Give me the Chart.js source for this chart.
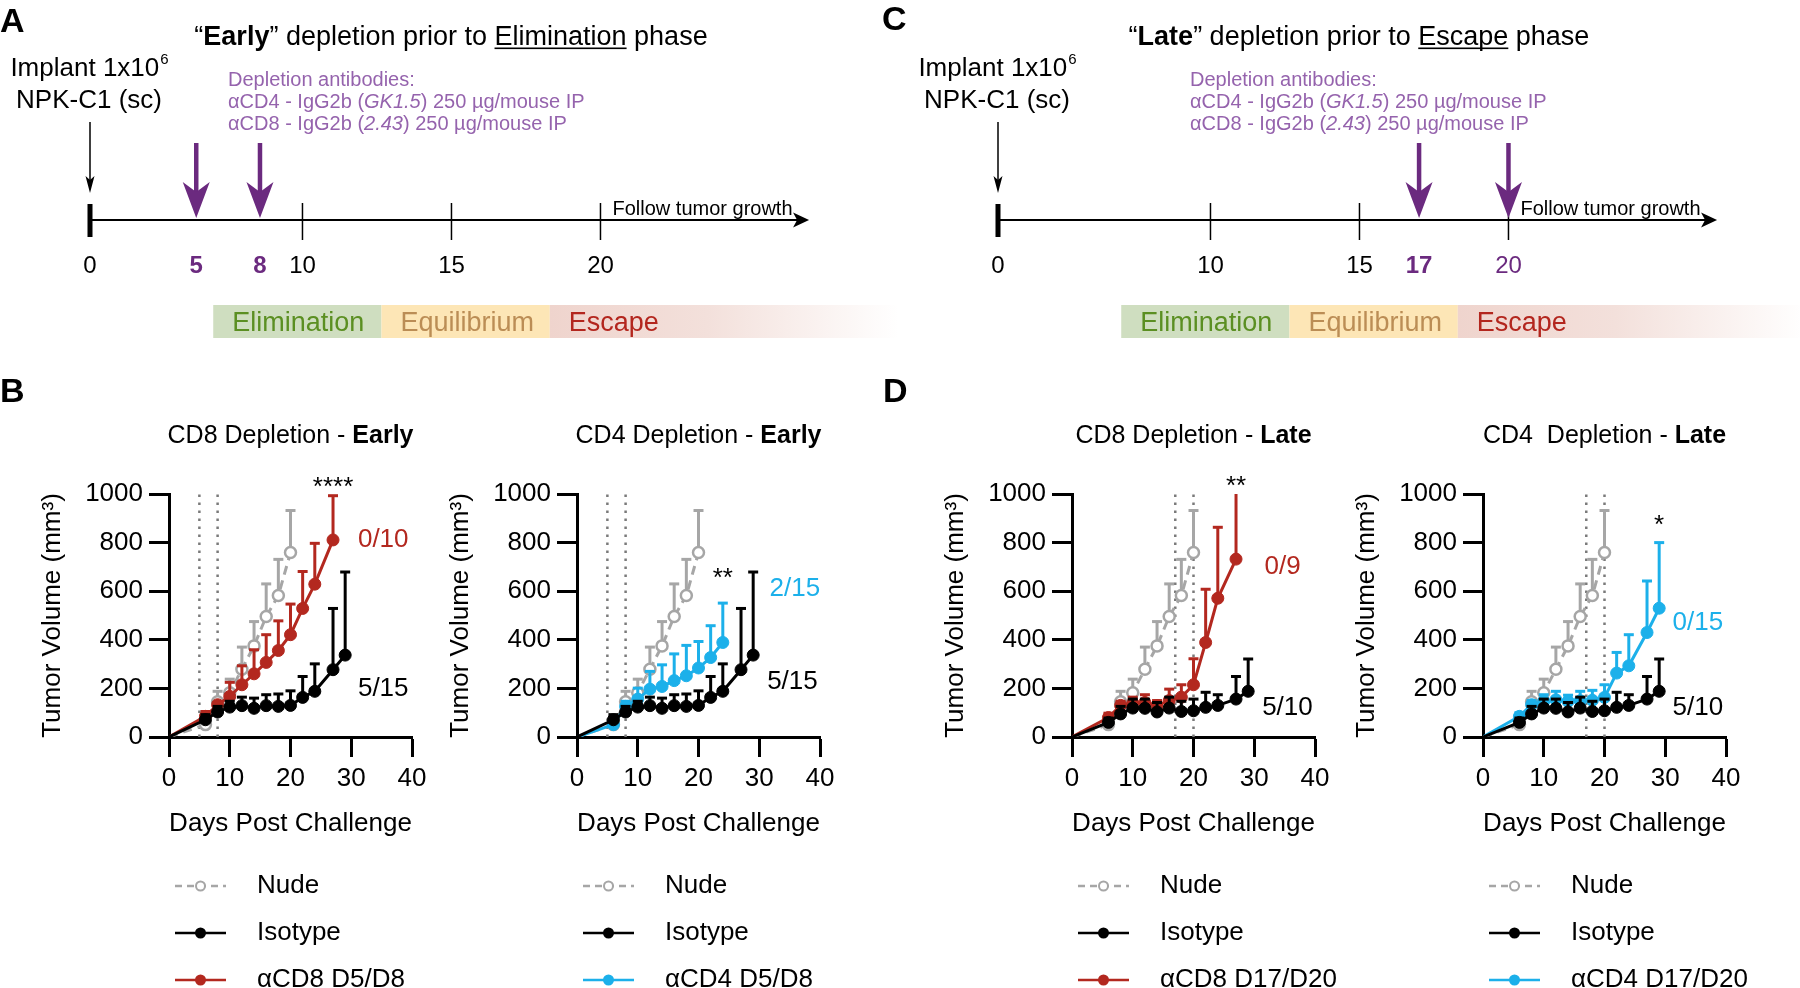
<!DOCTYPE html>
<html>
<head>
<meta charset="utf-8">
<script src="https://cdn.jsdelivr.net/npm/chart.js@4.4.1/dist/chart.umd.min.js"></script>
<style>
  body { margin: 0; background: #fff; width: 1800px; height: 988px; position: relative; overflow: hidden;
         font-family: "Liberation Sans", Arial, Helvetica, sans-serif; }
  .box { position: absolute; }
  .tag { position: absolute; font-weight: bold; font-size: 34px; line-height: 1; z-index: 5; }
</style>
</head>
<body>
<div class="tag" style="left:0;top:3px">A</div>
<div class="tag" style="left:882px;top:1px">C</div>
<div class="tag" style="left:0;top:373px">B</div>
<div class="tag" style="left:883px;top:373px">D</div>

<div class="box" style="left:0;top:0;width:900px;height:350px"><canvas id="tlEarly"></canvas></div>
<div class="box" style="left:900px;top:0;width:900px;height:350px"><canvas id="tlLate"></canvas></div>

<div class="box" style="left:0;top:410px;width:440px;height:578px"><canvas id="cd8Early"></canvas></div>
<div class="box" style="left:408px;top:410px;width:440px;height:578px"><canvas id="cd4Early"></canvas></div>
<div class="box" style="left:903px;top:410px;width:440px;height:578px"><canvas id="cd8Late"></canvas></div>
<div class="box" style="left:1314px;top:410px;width:440px;height:578px"><canvas id="cd4Late"></canvas></div>

<script>
// ---- data ----
const days = [0, 6, 8, 10, 12, 14, 16, 18, 20, 22, 24, 27, 29];

// mean tumour volume and top of the error bar (mean + SEM), mm3
const nudeVol = [0, 51, 145, 182, 279, 375, 496, 582, 759];
const nudeHi = [null, 70, 188, 238, 370, 475, 630, 731, 932];

const isoEarlyVol = [0, 71, 103, 123, 129, 118, 129, 126, 130, 163, 188, 277, 337];
const isoEarlyHi = [null, 92, 126, 147, 164, 160, 174, 177, 190, 249, 301, 529, 679];

const cd8EarlyVol = [0, 85, 133, 167, 215, 260, 307, 356, 421, 529, 629, 811];
const cd8EarlyHi = [null, 105, 142, 225, 293, 359, 421, 478, 547, 681, 797, 993];

const cd4EarlyVol = [0, 51, 126, 156, 197, 208, 232, 252, 284, 327, 389];
const cd4EarlyHi = [null, 65, 147, 201, 270, 297, 342, 377, 393, 458, 551];

const isoLateVol = [0, 60, 95, 119, 118, 103, 119, 105, 108, 122, 130, 156, 188];
const isoLateHi = [null, 78, 126, 156, 156, 142, 164, 147, 156, 184, 174, 249, 321];

const cd8LateVol = [0, 80, 130, 140, 142, 130, 150, 164, 215, 389, 571, 732];
const cd8LateHi = [null, 98, 147, 164, 174, 150, 197, 215, 322, 608, 863, 1060];

const cd4LateVol = [0, 85, 133, 147, 153, 147, 149, 151, 163, 263, 293, 430, 530];
const cd4LateHi = [null, 100, 150, 174, 188, 172, 188, 192, 215, 348, 421, 642, 800];

// dosing days and timeline
const earlyDoses = [5, 8];
const lateDoses = [17, 20];
const tlTicks = [0, 10, 15, 20];
const tlEnd = 27;
const phaseNames = ['Elimination', 'Equilibrium', 'Escape'];
const phaseStart = [5.8, 12.65, 18.3];
const phaseEnd = [12.65, 18.3, 30];

// ---- styles ----
const FONT = '"Liberation Sans", Arial, Helvetica, sans-serif';
const RED = '#b3281f', BLUE = '#1cb0ea', GRAY = '#a6a6a6';
const PURPLE = '#6b2a7f', NOTE = '#9563ad';
const phaseFill = ['#cfdec0', '#fde6b6', '#efd4cd'];
const phaseInk = ['#5b8f22', '#bb8d55', '#b3261e'];

Chart.defaults.font.family = FONT;
Chart.defaults.color = '#000';

// the schematic timeline squeezes the first 10 days
const warp = d => (d < 10 ? d * 0.713 : d - 2.87);

// draw a line of text made of styled pieces
function runs(ctx, parts, x, y, size, align, color) {
  const fontOf = p => (p.i ? 'italic ' : '') + (p.b ? 'bold ' : '') + size + 'px ' + FONT;
  let w = 0;
  parts.forEach(p => { ctx.font = fontOf(p); w += ctx.measureText(p.t).width; });
  let cx = align === 'center' ? x - w / 2 : x;
  ctx.textAlign = 'left';
  ctx.textBaseline = 'alphabetic';
  ctx.fillStyle = color;
  parts.forEach(p => {
    ctx.font = fontOf(p);
    const pw = ctx.measureText(p.t).width;
    ctx.fillText(p.t, cx, y);
    if (p.u) ctx.fillRect(cx, y + 2.5, pw, 1.6);
    cx += pw;
  });
}

function timelinePlugin(o) {
  return {
    id: 'timeline',
    afterDraw(chart) {
      const ctx = chart.ctx, xs = chart.scales.x;
      const X = d => xs.getPixelForValue(warp(d));
      const x0 = X(0), axisY = 220;
      ctx.save();

      // phases
      phaseNames.forEach((name, i) => {
        const x1 = X(phaseStart[i]), x2 = X(phaseEnd[i]);
        if (i === phaseNames.length - 1) {
          const g = ctx.createLinearGradient(x1, 0, x2, 0);
          g.addColorStop(0, phaseFill[i]);
          g.addColorStop(0.45, '#f3e0db');
          g.addColorStop(1, '#ffffff');
          ctx.fillStyle = g;
        } else {
          ctx.fillStyle = phaseFill[i];
        }
        ctx.fillRect(x1, 305, x2 - x1, 33);
        ctx.fillStyle = phaseInk[i];
        ctx.font = '27px ' + FONT;
        ctx.textAlign = 'left';
        ctx.textBaseline = 'alphabetic';
        ctx.fillText(name, x1 + 19, 331);
      });

      // title
      runs(ctx, o.title, x0 + 361, 45, 27, 'center', '#000');

      // implant note + arrow
      ctx.fillStyle = '#000';
      ctx.font = '26px ' + FONT;
      const mainW = ctx.measureText('Implant 1x10').width;
      ctx.font = '15px ' + FONT;
      const supW = ctx.measureText('6').width;
      const sx = x0 - 1 - (mainW + supW) / 2;
      ctx.textAlign = 'left';
      ctx.textBaseline = 'alphabetic';
      ctx.font = '26px ' + FONT;
      ctx.fillText('Implant 1x10', sx, 76);
      ctx.font = '15px ' + FONT;
      ctx.fillText('6', sx + mainW + 1, 64);
      ctx.font = '26px ' + FONT;
      ctx.textAlign = 'center';
      ctx.fillText('NPK-C1 (sc)', x0 - 1, 108);

      ctx.strokeStyle = '#000';
      ctx.lineWidth = 1.5;
      ctx.beginPath(); ctx.moveTo(x0, 122); ctx.lineTo(x0, 182); ctx.stroke();
      ctx.beginPath(); ctx.moveTo(x0 - 4.5, 176); ctx.lineTo(x0, 193); ctx.lineTo(x0 + 4.5, 176);
      ctx.lineTo(x0, 180); ctx.closePath(); ctx.fill();

      // antibody note
      o.note.forEach((line, i) => runs(ctx, line, o.noteX, 86 + i * 22, 20, 'left', NOTE));

      // timeline axis with arrow head
      const xe = X(tlEnd);
      ctx.fillStyle = '#000';
      ctx.strokeStyle = '#000';
      ctx.lineWidth = 2;
      ctx.beginPath(); ctx.moveTo(x0, axisY); ctx.lineTo(xe - 8, axisY); ctx.stroke();
      ctx.beginPath(); ctx.moveTo(xe, axisY); ctx.lineTo(xe - 16, axisY - 7.5); ctx.lineTo(xe - 12, axisY);
      ctx.lineTo(xe - 16, axisY + 7.5); ctx.closePath(); ctx.fill();
      ctx.fillRect(x0 - 2.5, 204, 5, 33);
      ctx.lineWidth = 1.5;
      tlTicks.filter(d => d > 0).forEach(d => {
        const px = X(d);
        ctx.beginPath(); ctx.moveTo(px, 203); ctx.lineTo(px, 240); ctx.stroke();
      });

      // dose arrows
      ctx.fillStyle = PURPLE;
      ctx.strokeStyle = PURPLE;
      ctx.lineWidth = 4.5;
      o.doses.forEach(d => {
        const px = X(d);
        ctx.beginPath(); ctx.moveTo(px, 143); ctx.lineTo(px, 195); ctx.stroke();
        ctx.beginPath(); ctx.moveTo(px, 218); ctx.lineTo(px - 13.5, 182); ctx.lineTo(px, 192);
        ctx.lineTo(px + 13.5, 182); ctx.closePath(); ctx.fill();
      });

      // tick labels
      const labels = Array.from(new Set(tlTicks.concat(o.doses))).sort((a, b) => a - b);
      ctx.textAlign = 'center';
      ctx.textBaseline = 'alphabetic';
      labels.forEach(d => {
        const dose = o.doses.includes(d);
        const bold = dose && !tlTicks.includes(d);
        ctx.font = (bold ? 'bold ' : '') + '24px ' + FONT;
        ctx.fillStyle = dose ? PURPLE : '#000';
        ctx.fillText(String(d), X(d), 273);
      });

      ctx.fillStyle = '#000';
      ctx.font = '20px ' + FONT;
      ctx.textAlign = 'left';
      ctx.fillText('Follow tumor growth', X(20) + 12, 215);
      ctx.restore();
    }
  };
}

function timeline(id, o) {
  return new Chart(document.getElementById(id), {
    type: 'scatter',
    data: { datasets: [] },
    options: {
      responsive: true,
      maintainAspectRatio: false,
      animation: false,
      events: [],
      layout: { padding: { left: o.left, right: o.right, top: 0, bottom: 0 } },
      plugins: { legend: { display: false }, tooltip: { enabled: false } },
      scales: {
        x: { type: 'linear', min: 0, max: 25, display: false },
        y: { min: 0, max: 1, display: false }
      }
    },
    plugins: [timelinePlugin(o)]
  });
}

const noteLines = [
  [{ t: 'Depletion antibodies:' }],
  [{ t: '\u03b1CD4 - IgG2b (' }, { t: 'GK1.5', i: 1 }, { t: ') 250 \u00b5g/mouse IP' }],
  [{ t: '\u03b1CD8 - IgG2b (' }, { t: '2.43', i: 1 }, { t: ') 250 \u00b5g/mouse IP' }]
];

timeline('tlEarly', {
  left: 90, right: 65, noteX: 228, doses: earlyDoses, note: noteLines,
  title: [{ t: '\u201c' }, { t: 'Early', b: 1 }, { t: '\u201d depletion prior to ' }, { t: 'Elimination', u: 1 }, { t: ' phase' }]
});
timeline('tlLate', {
  left: 98, right: 57, noteX: 290, doses: lateDoses, note: noteLines,
  title: [{ t: '\u201c' }, { t: 'Late', b: 1 }, { t: '\u201d depletion prior to ' }, { t: 'Escape', u: 1 }, { t: ' phase' }]
});

// ---- tumour growth charts ----
function series(label, vol, hi, color, open, order) {
  return {
    label: label,
    data: vol.map((v, i) => ({ x: days[i], y: v })),
    hi: hi,
    open: open,
    order: order,
    borderColor: color,
    backgroundColor: color,
    borderWidth: 3,
    borderDash: open ? [9, 6] : [],
    tension: 0,
    pointRadius: vol.map((v, i) => (i === 0 ? 0 : open ? 5.5 : 6)),
    pointBackgroundColor: open ? '#fff' : color,
    pointBorderColor: color,
    pointBorderWidth: open ? 2.5 : 1
  };
}

function panelPlugin(o) {
  return {
    id: 'panel',
    beforeDatasetsDraw(chart) {
      const { ctx, scales: { x, y } } = chart;
      ctx.save();
      ctx.strokeStyle = '#7a7a7a';
      ctx.lineWidth = 2.5;
      ctx.setLineDash([2.5, 5.5]);
      o.doses.forEach(d => {
        const px = x.getPixelForValue(d);
        ctx.beginPath();
        ctx.moveTo(px, y.getPixelForValue(0));
        ctx.lineTo(px, y.getPixelForValue(y.max));
        ctx.stroke();
      });
      ctx.restore();
    },
    beforeDatasetDraw(chart, args) {
      const ds = chart.data.datasets[args.index];
      if (!ds.hi) return;
      const { ctx, scales: { y } } = chart;
      ctx.save();
      ctx.strokeStyle = ds.borderColor;
      ctx.lineWidth = 3;
      ds.hi.forEach((h, i) => {
        if (h == null) return;
        const p = args.meta.data[i];
        const yt = y.getPixelForValue(Math.min(h, y.max));
        ctx.beginPath(); ctx.moveTo(p.x, p.y); ctx.lineTo(p.x, yt); ctx.stroke();
        if (h <= y.max) {
          ctx.beginPath(); ctx.moveTo(p.x - 5, yt); ctx.lineTo(p.x + 5, yt); ctx.stroke();
        }
      });
      ctx.restore();
    },
    afterDraw(chart) {
      const { ctx, chartArea: a, scales: { x, y } } = chart;
      ctx.save();
      runs(ctx, o.title, (a.left + a.right) / 2, 33, 25, 'center', '#000');

      o.notes.forEach(n => {
        ctx.font = '26px ' + FONT;
        ctx.fillStyle = n.c;
        ctx.textAlign = n.a;
        ctx.textBaseline = 'middle';
        ctx.fillText(n.t, x.getPixelForValue(n.x), y.getPixelForValue(n.y));
      });

      // legend
      chart.data.datasets.forEach((ds, i) => {
        const ly = 476 + i * 47;
        const x1 = a.left + 6, x2 = a.left + 57, xm = (x1 + x2) / 2;
        ctx.strokeStyle = ds.borderColor;
        ctx.lineWidth = 2.5;
        ctx.setLineDash(ds.open ? [7, 5] : []);
        ctx.beginPath(); ctx.moveTo(x1, ly); ctx.lineTo(x2, ly); ctx.stroke();
        ctx.setLineDash([]);
        ctx.beginPath(); ctx.arc(xm, ly, 4.5, 0, Math.PI * 2);
        ctx.fillStyle = ds.open ? '#fff' : ds.borderColor;
        ctx.fill();
        ctx.lineWidth = 2;
        ctx.stroke();
        ctx.fillStyle = '#000';
        ctx.font = '26px ' + FONT;
        ctx.textAlign = 'left';
        ctx.textBaseline = 'middle';
        ctx.fillText(ds.label, a.left + 88, ly);
      });
      ctx.restore();
    }
  };
}

function axis(title, max, step, isX) {
  return {
    type: 'linear',
    min: 0,
    max: max,
    ticks: { stepSize: step, color: '#000', font: { size: 26 }, padding: 6, callback: v => String(v) },
    grid: { drawOnChartArea: false, drawTicks: true, tickLength: 20, tickWidth: 3, tickColor: '#000' },
    border: { display: true, color: '#000', width: 3 },
    title: { display: true, text: title, color: '#000', font: { size: 26 }, padding: { top: 0, bottom: 8 } },
    afterFit(s) {
      if (isX) { s.height = 110; s.paddingLeft = 0; s.paddingRight = 0; }
      else { s.width = 132; s.paddingTop = 0; s.paddingBottom = 0; }
    }
  };
}

function tumorChart(id, o) {
  return new Chart(document.getElementById(id), {
    type: 'line',
    data: {
      datasets: [
        series('Nude', nudeVol, nudeHi, GRAY, true, 2),
        series('Isotype', o.isoVol, o.isoHi, '#000', false, 0),
        series(o.label, o.vol, o.hi, o.color, false, 1)
      ]
    },
    options: {
      responsive: true,
      maintainAspectRatio: false,
      animation: false,
      events: [],
      layout: { padding: { left: 37, top: 84, right: 28, bottom: 141 } },
      plugins: { legend: { display: false }, tooltip: { enabled: false } },
      scales: {
        x: axis('Days Post Challenge', 40, 10, true),
        y: axis('Tumor Volume (mm\u00b3)', 1000, 200, false)
      }
    },
    plugins: [panelPlugin(o)]
  });
}

tumorChart('cd8Early', {
  title: [{ t: 'CD8 Depletion - ' }, { t: 'Early', b: 1 }],
  label: '\u03b1CD8 D5/D8', color: RED, vol: cd8EarlyVol, hi: cd8EarlyHi,
  isoVol: isoEarlyVol, isoHi: isoEarlyHi, doses: earlyDoses,
  notes: [
    { t: '****', x: 27, y: 1024, c: '#000', a: 'center' },
    { t: '0/10', x: 31.1, y: 811, c: RED, a: 'left' },
    { t: '5/15', x: 31.1, y: 197, c: '#000', a: 'left' }
  ]
});
tumorChart('cd4Early', {
  title: [{ t: 'CD4 Depletion - ' }, { t: 'Early', b: 1 }],
  label: '\u03b1CD4 D5/D8', color: BLUE, vol: cd4EarlyVol, hi: cd4EarlyHi,
  isoVol: isoEarlyVol, isoHi: isoEarlyHi, doses: earlyDoses,
  notes: [
    { t: '**', x: 24, y: 650, c: '#000', a: 'center' },
    { t: '2/15', x: 31.7, y: 609, c: BLUE, a: 'left' },
    { t: '5/15', x: 31.3, y: 227, c: '#000', a: 'left' }
  ]
});
tumorChart('cd8Late', {
  title: [{ t: 'CD8 Depletion - ' }, { t: 'Late', b: 1 }],
  label: '\u03b1CD8 D17/D20', color: RED, vol: cd8LateVol, hi: cd8LateHi,
  isoVol: isoLateVol, isoHi: isoLateHi, doses: lateDoses,
  notes: [
    { t: '**', x: 27, y: 1028, c: '#000', a: 'center' },
    { t: '0/9', x: 31.7, y: 700, c: RED, a: 'left' },
    { t: '5/10', x: 31.3, y: 119, c: '#000', a: 'left' }
  ]
});
tumorChart('cd4Late', {
  title: [{ t: 'CD4  Depletion - ' }, { t: 'Late', b: 1 }],
  label: '\u03b1CD4 D17/D20', color: BLUE, vol: cd4LateVol, hi: cd4LateHi,
  isoVol: isoLateVol, isoHi: isoLateHi, doses: lateDoses,
  notes: [
    { t: '*', x: 29, y: 868, c: '#000', a: 'center' },
    { t: '0/15', x: 31.2, y: 470, c: BLUE, a: 'left' },
    { t: '5/10', x: 31.2, y: 119, c: '#000', a: 'left' }
  ]
});
</script>
</body>
</html>
